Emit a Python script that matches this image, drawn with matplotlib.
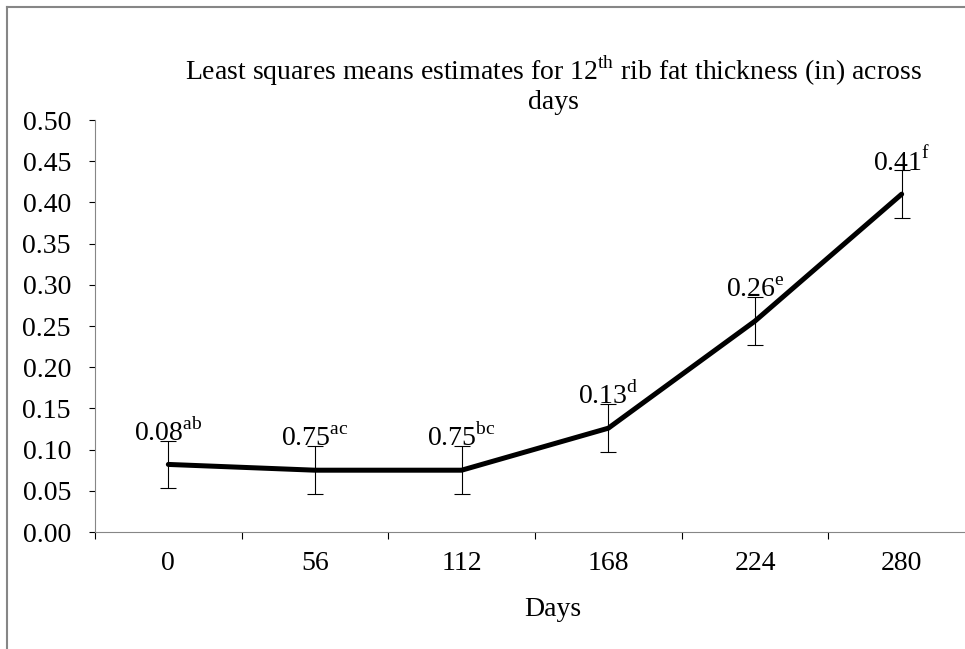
import matplotlib
matplotlib.use("Agg")
import matplotlib.pyplot as plt
from matplotlib.lines import Line2D

# ─────────────────────────────────────────────
# DATA
# ─────────────────────────────────────────────
days       = ["0", "56", "112", "168", "224", "280"]
means      = [0.082, 0.075, 0.075, 0.126, 0.256, 0.410]
errors     = [0.029, 0.029, 0.029, 0.029, 0.029, 0.029]
val_labels = ["0.08", "0.75", "0.75", "0.13", "0.26", "0.41"]
letters    = ["ab", "ac", "bc", "d", "e", "f"]
y_ticks    = [0.00, 0.05, 0.10, 0.15, 0.20, 0.25, 0.30, 0.35, 0.40, 0.45, 0.50]

plt.rcParams["font.family"] = ["Liberation Serif", "DejaVu Serif"]
plt.rcParams["mathtext.fontset"] = "custom"
plt.rcParams["mathtext.rm"] = "Liberation Serif"

FS = 20
GRAY = "#868686"

fig = plt.figure(figsize=(9.65, 6.49), dpi=100)
ax = fig.add_axes([95 / 965, 1 - 532 / 649, 880 / 965, 412 / 649])

x = list(range(len(days)))
ax.plot(x, means, color="black", lw=3.6, solid_capstyle="round", zorder=3)
ax.errorbar(x, means, yerr=errors, fmt="none", ecolor="black",
            elinewidth=0.8, capsize=6, capthick=0.8, zorder=2)

for xi, m, e, v, s in zip(x, means, errors, val_labels, letters):
    ax.text(xi, m + e, v + r"$^{\mathrm{" + s + "}}$", ha="center",
            va="baseline", fontsize=FS, zorder=4)

ax.set_xlim(-0.5, len(days) - 0.5)
ax.set_ylim(0, 0.5)
ax.set_yticks(y_ticks)
ax.set_yticklabels([f"{t:.2f}" for t in y_ticks], fontsize=FS)
ax.set_xticks([i + 0.5 for i in range(-1, len(days))])
ax.set_xticklabels([])
ax.set_xticks(x, minor=True)
ax.set_xticklabels(days, minor=True, fontsize=FS)
ax.tick_params(axis="x", which="minor", length=0, pad=14)
ax.tick_params(axis="x", which="major", length=5, direction="out", color="black")
ax.tick_params(axis="y", length=4.3, direction="out", pad=13, color="black")

for side in ["top", "right"]:
    ax.spines[side].set_visible(False)
ax.spines["left"].set_color(GRAY)
ax.spines["bottom"].set_color(GRAY)

fig.text(553 / 965, 1 - 609 / 649, "Days", ha="center", va="center", fontsize=FS)

fig.text(553 / 965, 1 - 80 / 649,
         r"Least squares means estimates for 12$^{\mathrm{th}}$ rib fat thickness (in) across",
         ha="center", va="baseline", fontsize=FS)
fig.text(553 / 965, 1 - 109 / 649, "days", ha="center", va="baseline", fontsize=FS)

# chart-area border
fig.add_artist(Line2D([7 / 965, 7 / 965], [0, 1 - 7 / 649], transform=fig.transFigure,
                      color=GRAY, lw=1.5))
fig.add_artist(Line2D([7 / 965, 1], [1 - 7 / 649, 1 - 7 / 649], transform=fig.transFigure,
                      color=GRAY, lw=1.5))

fig.savefig("out.png", dpi=100)
